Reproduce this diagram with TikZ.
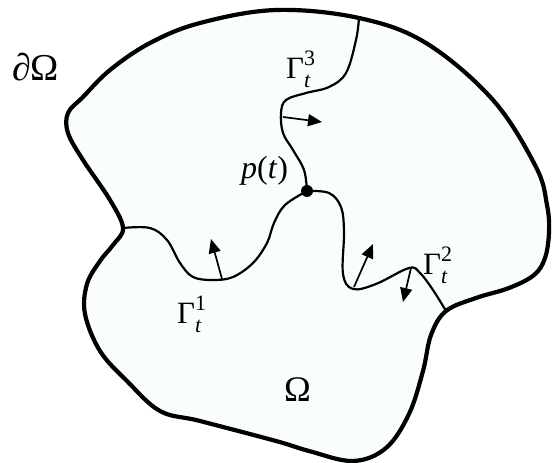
\documentclass[tikz,border=0pt]{standalone}
\usepackage{fontspec}
\setmainfont{Liberation Serif}
\usetikzlibrary{arrows.meta}

\definecolor{domfill}{RGB}{249,253,254}
\newcommand{\glab}[1]{Γ\rlap{\raisebox{13pt}{\fontsize{22}{22}\selectfont #1}}\raisebox{-9pt}{\fontsize{22}{22}\selectfont\itshape t}}

\tikzset{
  bdry/.style={line width=4.2pt, fill=domfill},
  iface/.style={line width=2.2pt},
  nrm/.style={line width=1.7pt, -{Triangle[length=14pt,width=12pt]}},
  lbl/.style={inner sep=0pt, anchor=base west}
}

\begin{document}
\begin{tikzpicture}[x=1pt, y=-1pt]
  \useasboundingbox (0,0) rectangle (552,463);
  % outer boundary
  \draw [bdry] plot [smooth cycle, tension=0.6] coordinates {
    (276,10) (359,18) (426,43) (493,100) (536,167) (547,205) (549,232)
    (545,258) (534,275) (509,288) (476,298) (446,311) (431,335)
    (423,371) (409,414) (386,448) (353,461) (309,451) (276,441)
    (200,421) (160,411) (127,381) (100,351) (85,314) (87,284)
    (100,261) (113,245) (123,228) (110,200) (83,160) (68,133)
    (68,113) (83,97) (110,70) (150,43) (200,23)};
  \coordinate (top) at (359,18);
  \coordinate (left) at (123,228);
  \coordinate (right) at (446,311);
  \node (p) at (307,191) [circle, fill, inner sep=0pt, minimum size=12pt] {};
  % interfaces
  \draw [iface] plot [smooth, tension=0.6] coordinates {
    (top) (356,40) (346,73) (329,87) (306,93) (286,100) (281,113)
    (283,133) (293,150) (304,170) (p.center)};
  \draw [iface] plot [smooth, tension=0.6] coordinates {
    (left) (150,228) (167,240) (180,263) (193,277) (213,280) (233,277)
    (253,263) (267,243) (274,223) (285,205) (p.center)};
  \draw [iface] plot [smooth, tension=0.6] coordinates {
    (p.center) (329,193) (341,207) (344,232) (343,274) (353,289)
    (376,284) (409,268) (420,273) (433,290) (right)};
  % normals
  \coordinate (n3a) at (283,117);
  \coordinate (n3b) at (322,122);
  \coordinate (n1a) at (222,279);
  \coordinate (n1b) at (211,239);
  \coordinate (n2a) at (354,287);
  \coordinate (n2b) at (373,244);
  \coordinate (n4a) at (411,268);
  \coordinate (n4b) at (403,302);
  \draw [nrm] (n3a) -- (n3b);
  \draw [nrm] (n1a) -- (n1b);
  \draw [nrm] (n2a) -- (n2b);
  \draw [nrm] (n4a) -- (n4b);
  % labels
  \node (dom) [lbl] at (12,80) {\fontsize{38}{38}\selectfont ∂Ω};
  \node (om) [lbl] at (284,401) {\fontsize{36}{36}\selectfont Ω};
  \node (pt) [lbl] at (241,178) {\fontsize{32}{32}\selectfont\textit{p}(\textit{t})};
  \node (g3) [lbl] at (286,78) {\fontsize{31}{31}\selectfont\glab{3}};
  \node (g1) [lbl] at (177,323) {\fontsize{31}{31}\selectfont\glab{1}};
  \node (g2) [lbl] at (423,274) {\fontsize{31}{31}\selectfont\glab{2}};
\end{tikzpicture}
\end{document}
